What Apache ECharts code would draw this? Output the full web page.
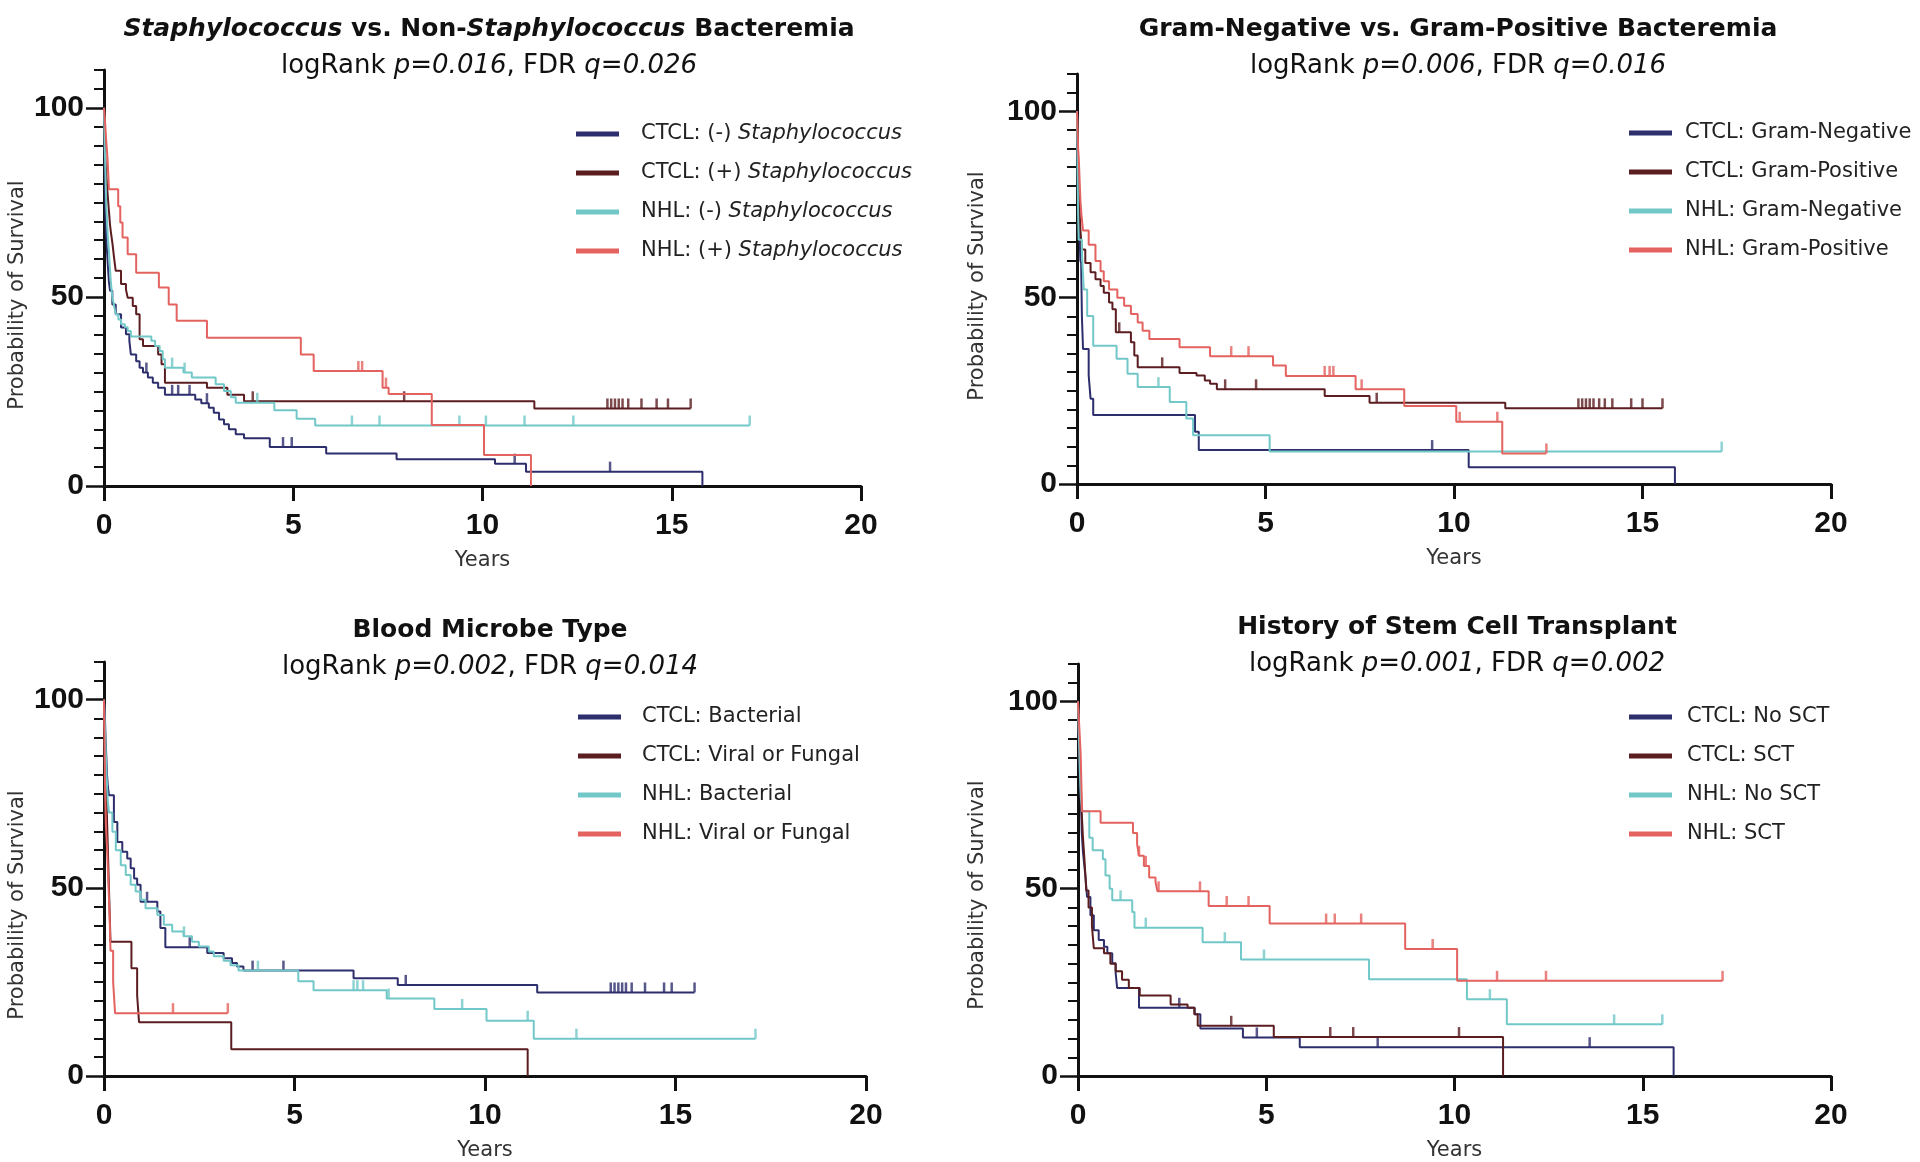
<!DOCTYPE html>
<html>
<head>
<meta charset="utf-8">
<script src="https://cdn.jsdelivr.net/npm/echarts@6/dist/echarts.min.js"></script>
<style>
html, body { margin: 0; padding: 0; background: #fff; }
#chart { width: 1920px; height: 1162px; }
</style>
</head>
<body>
<div id="chart"></div>
<script>
// survival curves: [years, % surviving], censor marks: years
var p1CtclNeg = [[0,100],[0.005,96],[0.01,92],[0.015,88],[0.02,84],[0.025,80],[0.03,76],[0.04,72],[0.045,69],[0.06,66],[0.075,63],[0.09,60.4],[0.11,57],[0.13,54],[0.16,51.6],[0.22,48],[0.31,45.4],[0.45,41.9],[0.58,40.1],[0.67,38.4],[0.71,34.8],[0.85,33],[0.94,31.3],[1.03,30],[1.16,28.7],[1.29,27.3],[1.43,26],[1.61,24.1],[2.41,22.9],[2.57,21.9],[2.77,20.7],[2.9,19.4],[3.04,17.6],[3.17,16.3],[3.3,15],[3.48,13.7],[3.7,12.6],[4.38,10.3],[5.87,8.6],[7.73,7.05],[10.33,5.9],[11.15,3.8],[15.81,0]];
var p1CtclNegCens = [1.12, 1.8, 1.96, 2.26, 2.72, 4.73, 4.96, 10.85, 13.37];
var p1CtclPos = [[0,100],[0.01,93],[0.03,88],[0.05,84],[0.07,81],[0.09,78],[0.12,74],[0.16,69],[0.19,66.5],[0.22,64.4],[0.27,60],[0.31,56.9],[0.45,53.4],[0.58,52],[0.625,49.8],[0.76,47.6],[0.85,45.4],[0.94,38.8],[1.03,37],[1.43,34.8],[1.52,32.2],[1.61,27.3],[2.72,26],[3.26,24.1],[3.7,22.4],[11.37,20.5],[15.5,20.5]];
var p1CtclPosCens = [3.93, 7.93, 13.3, 13.4, 13.5, 13.6, 13.7, 13.85, 14.2, 14.6, 14.9, 15.5];
var p1NhlNeg = [[0,100],[0.01,95],[0.02,90],[0.03,86],[0.04,82],[0.05,78],[0.06,74],[0.08,70],[0.1,66],[0.13,62],[0.16,57],[0.18,54],[0.22,50],[0.27,47.5],[0.31,45.4],[0.38,44],[0.45,42.8],[0.55,42],[0.625,41],[0.71,39.5],[1.25,38.4],[1.35,37],[1.47,35.7],[1.55,33.5],[1.61,31.3],[2.1,30],[2.32,28.7],[2.95,26.9],[3.17,25.1],[3.35,23.5],[3.48,22],[4.5,20],[5.09,17.8],[5.58,16],[17.06,16]];
var p1NhlNegCens = [1.8, 2.13, 4.05, 6.55, 7.28, 9.39, 10.09, 11.11, 12.4, 17.06];
var p1NhlPos = [[0,100],[0.03,96],[0.06,91],[0.09,87],[0.11,83],[0.13,78.5],[0.375,74],[0.43,69.7],[0.49,65.7],[0.625,61.3],[0.85,56.4],[1.45,52.5],[1.71,48],[1.92,43.7],[2.72,39.2],[5.2,34.8],[5.54,30.4],[7.36,26],[7.52,24.3],[8.66,16.1],[10.04,8.2],[11.28,0]];
var p1NhlPosCens = [6.72, 6.82, 7.45];

var p2CtclNeg = [[0,100],[0.01,92],[0.02,84],[0.03,78],[0.045,72.6],[0.07,66],[0.09,60],[0.11,59.3],[0.13,45],[0.16,36.2],[0.31,29.1],[0.36,22.9],[0.43,18.5],[3.13,14],[3.23,9.1],[10.39,4.5],[15.86,0]];
var p2CtclNegCens = [9.42];
var p2CtclPos = [[0,100],[0.01,94],[0.02,88],[0.03,83],[0.045,78.9],[0.09,68.2],[0.13,62.9],[0.22,59.3],[0.36,56.8],[0.49,54.9],[0.625,53.1],[0.71,51.3],[0.85,48.7],[0.94,46.9],[1.03,40.7],[1.43,38],[1.52,34.5],[1.61,31.3],[2.72,29.8],[3.17,29.1],[3.39,27.8],[3.53,26.9],[3.71,25.4],[6.57,23.6],[7.76,21.8],[11.36,20.3],[15.53,20.3]];
var p2CtclPosCens = [1.12, 2.26, 3.93, 4.75, 7.95, 13.3, 13.4, 13.5, 13.6, 13.7, 13.85, 14.0, 14.2, 14.7, 15.0, 15.53];
var p2NhlNeg = [[0,100],[0.01,90],[0.02,80],[0.03,72],[0.045,65.5],[0.13,62],[0.18,52.2],[0.27,45.1],[0.43,37.1],[1.05,33.6],[1.34,29.6],[1.61,26],[2.46,22],[2.9,17.6],[3.08,13.1],[5.11,8.7],[17.1,8.7]];
var p2NhlNegCens = [2.16, 17.1];
var p2NhlPos = [[0,100],[0.01,97],[0.02,93],[0.03,90],[0.045,87.7],[0.06,84],[0.075,80],[0.09,76],[0.12,72],[0.16,68],[0.31,64.2],[0.49,59.8],[0.625,57.1],[0.71,54.4],[0.85,52.2],[1.07,50],[1.25,47.8],[1.43,45.6],[1.61,43.3],[1.74,41.1],[1.92,38.9],[2.72,36.7],[3.53,34.3],[5.2,31.8],[5.54,29],[7.39,25.4],[8.68,20.9],[10.06,16.7],[11.28,8.2],[12.45,8.2]];
var p2NhlPosCens = [4.09, 4.55, 6.57, 6.7, 6.8, 7.55, 10.15, 11.15, 12.45];

var p3CtclBact = [[0,100],[0.02,96.6],[0.04,90],[0.06,85],[0.08,80],[0.1,77],[0.13,74.6],[0.26,67.5],[0.35,62.2],[0.48,59.6],[0.61,57.8],[0.7,55.2],[0.79,52.5],[0.87,50.8],[0.96,46.3],[1.4,43.7],[1.48,39.3],[1.61,34.2],[2.71,32.7],[3.14,31.3],[3.36,30],[3.49,29.1],[3.66,28],[6.55,26],[7.71,24.2],[11.37,22.2],[15.5,22.2]];
var p3CtclBactCens = [1.13, 2.25, 3.9, 4.71, 7.92, 13.3, 13.4, 13.5, 13.6, 13.7, 13.85, 14.2, 14.7, 14.9, 15.5];
var p3CtclVF = [[0,100],[0.01,92.9],[0.03,85.7],[0.05,78.6],[0.07,71.4],[0.09,64.3],[0.11,57.1],[0.13,50],[0.15,42.9],[0.17,35.7],[0.72,28.6],[0.87,21.4],[0.92,14.3],[3.34,7.1],[11.12,0]];
var p3CtclVFCens = [];
var p3NhlBact = [[0,100],[0.02,94],[0.04,88],[0.06,82],[0.08,77],[0.1,73],[0.13,70],[0.22,64.9],[0.31,60],[0.44,56],[0.57,53.4],[0.7,50.8],[0.83,49],[0.96,46.8],[1.09,44.6],[1.4,42.8],[1.57,40.2],[1.79,38.4],[2.09,37.1],[2.31,35.7],[2.49,34.4],[2.75,33.1],[2.88,31.8],[3.14,30.6],[3.32,29.4],[3.53,28],[5.1,25.2],[5.5,22.8],[7.42,20.6],[8.67,17.8],[10.04,14.7],[11.28,9.9],[17.1,9.9]];
var p3NhlBactCens = [2.1, 4.04, 6.55, 6.65, 6.8, 7.47, 9.4, 11.12, 12.4, 17.1];
var p3NhlVF = [[0,100],[0.01,91.7],[0.02,83.3],[0.03,75],[0.05,66.7],[0.09,58.3],[0.12,50],[0.15,41.7],[0.17,33.3],[0.24,25],[0.29,16.7],[3.25,16.7]];
var p3NhlVFCens = [1.81, 3.25];

var p4CtclNo = [[0,100],[0.01,95],[0.02,90],[0.03,85],[0.05,80],[0.07,75],[0.09,70],[0.1,65],[0.13,60],[0.17,56],[0.2,53],[0.24,47.8],[0.33,42.9],[0.42,38.9],[0.55,36.3],[0.69,34.5],[0.78,32.8],[0.91,30.1],[1.0,27.5],[1.04,23.5],[1.62,18.2],[3.1,16.5],[3.25,12.7],[4.38,10.3],[5.89,7.7],[15.82,0]];
var p4CtclNoCens = [2.69, 4.75, 7.96, 13.59];
var p4CtclSct = [[0,100],[0.01,94],[0.03,88],[0.05,82],[0.08,76],[0.1,70],[0.13,64],[0.17,58],[0.2,53],[0.22,49.5],[0.28,45],[0.37,40],[0.42,34.1],[0.69,32.8],[0.86,30],[1.0,28],[1.17,25.7],[1.35,23.5],[1.64,21.5],[2.46,19.1],[2.91,18.2],[3.09,16.5],[3.18,13.4],[5.2,10.4],[11.29,0]];
var p4CtclSctCens = [4.07, 6.7, 7.31, 10.12];
var p4NhlNo = [[0,100],[0.02,92],[0.04,85],[0.06,78],[0.08,74],[0.11,70.7],[0.3,63.6],[0.39,60.3],[0.66,57.9],[0.73,53.5],[0.84,50],[0.91,46.9],[1.44,43.8],[1.5,39.6],[3.31,35.7],[4.33,31.1],[7.73,25.8],[10.33,20.5],[11.39,13.8],[15.52,13.8]];
var p4NhlNoCens = [1.13, 1.8, 3.9, 4.94, 10.94, 14.24, 15.52];
var p4NhlSct = [[0,100],[0.01,97.5],[0.03,94],[0.05,90],[0.07,86],[0.08,82],[0.09,78],[0.1,74],[0.11,70.7],[0.6,67.6],[1.46,64.9],[1.57,61.9],[1.62,58.8],[1.75,56.1],[1.89,53],[2.06,51.7],[2.11,49.3],[3.47,45.4],[5.09,40.7],[8.69,33.9],[10.07,25.4],[17.12,25.4]];
var p4NhlSctCens = [1.62, 1.8, 2.14, 3.24, 3.95, 4.53, 6.59, 6.82, 7.52, 9.42, 11.13, 12.43, 17.12];

var xTicks = [0, 5, 10, 15, 20];
var yTickLabels = [0, 50, 100];
var yMax = 110;
var yMinorStep = 5;

var panelTitles = [
    '{i|Staphylococcus} vs. Non-{i|Staphylococcus} Bacteremia',
    'Gram-Negative vs. Gram-Positive Bacteremia',
    'Blood Microbe Type',
    'History of Stem Cell Transplant'
];
var panelSubtitles = [
    'logRank {i|p=0.016}, FDR {i|q=0.026}',
    'logRank {i|p=0.006}, FDR {i|q=0.016}',
    'logRank {i|p=0.002}, FDR {i|q=0.014}',
    'logRank {i|p=0.001}, FDR {i|q=0.002}'
];
var groupNames = [
    ['CTCL: (-) Staphylococcus', 'CTCL: (+) Staphylococcus', 'NHL: (-) Staphylococcus', 'NHL: (+) Staphylococcus'],
    ['CTCL: Gram-Negative', 'CTCL: Gram-Positive', 'NHL: Gram-Negative', 'NHL: Gram-Positive'],
    ['CTCL: Bacterial', 'CTCL: Viral or Fungal', 'NHL: Bacterial', 'NHL: Viral or Fungal'],
    ['CTCL: No SCT', 'CTCL: SCT', 'NHL: No SCT', 'NHL: SCT']
];

var panelCurves = [
    [[p1CtclNeg, p1CtclNegCens], [p1CtclPos, p1CtclPosCens], [p1NhlNeg, p1NhlNegCens], [p1NhlPos, p1NhlPosCens]],
    [[p2CtclNeg, p2CtclNegCens], [p2CtclPos, p2CtclPosCens], [p2NhlNeg, p2NhlNegCens], [p2NhlPos, p2NhlPosCens]],
    [[p3CtclBact, p3CtclBactCens], [p3CtclVF, p3CtclVFCens], [p3NhlBact, p3NhlBactCens], [p3NhlVF, p3NhlVFCens]],
    [[p4CtclNo, p4CtclNoCens], [p4CtclSct, p4CtclSctCens], [p4NhlNo, p4NhlNoCens], [p4NhlSct, p4NhlSctCens]]
];

var FONT = '"Liberation Sans", Arial, sans-serif';
var WIDE = '"DejaVu Sans", Verdana, sans-serif';
var colors = ['#2d2e6c', '#5b1d20', '#72c8c8', '#e4625f'];

// panel layout
var grids = [
    {left: 104, right: 1059, top: 70, bottom: 676},
    {left: 1077, right: 89, top: 74, bottom: 678},
    {left: 104, right: 1054, top: 662, bottom: 85},
    {left: 1078, right: 89, top: 664, bottom: 81}
];
var titlePos = [{x: 484, y: 9}, {x: 1453, y: 9}, {x: 485, y: 610}, {x: 1452, y: 607}];
var legendPos = [{x: 571, y: 117, pad: 17}, {x: 1624, y: 116, pad: 8}, {x: 573, y: 700, pad: 16}, {x: 1624, y: 700, pad: 10}];
var yNamePos = [{x: 18, y: 295}, {x: 978, y: 286}, {x: 18, y: 905}, {x: 978, y: 895}];

var minorTickValues = [];
for (var v = 0; v <= yMax; v += yMinorStep) {
    if (yTickLabels.indexOf(v) < 0) minorTickValues.push(v);
}

function survAt(curve, t) {
    var s = curve[0][1];
    for (var i = 0; i < curve.length; i++) {
        if (curve[i][0] <= t) s = curve[i][1];
    }
    return s;
}

var option = {
    animation: false,
    backgroundColor: '#ffffff',
    title: [],
    legend: [],
    grid: [],
    xAxis: [],
    yAxis: [],
    series: [],
    graphic: []
};

panelCurves.forEach(function (curves, p) {
    option.grid.push(grids[p]);

    option.title.push({
        text: panelTitles[p],
        subtext: panelSubtitles[p],
        left: titlePos[p].x,
        top: titlePos[p].y,
        textAlign: 'center',
        itemGap: 7,
        textStyle: {
            fontFamily: WIDE, fontSize: 25, fontWeight: 'bold', color: '#111', lineHeight: 30,
            rich: { i: { fontFamily: WIDE, fontSize: 25, fontWeight: 'bold', fontStyle: 'italic', color: '#111' } }
        },
        subtextStyle: {
            fontFamily: WIDE, fontSize: 26, color: '#111', lineHeight: 30,
            rich: { i: { fontFamily: WIDE, fontSize: 26, fontStyle: 'italic', color: '#111' } }
        }
    });

    option.legend.push({
        data: groupNames[p],
        orient: 'vertical',
        left: legendPos[p].x,
        top: legendPos[p].y,
        icon: 'rect',
        itemWidth: 43,
        itemHeight: 5,
        itemGap: 15,
        selectedMode: false,
        formatter: function (name) {
            return name.replace('Staphylococcus', '{i|Staphylococcus}');
        },
        textStyle: {
            fontFamily: WIDE, fontSize: 21, color: '#222', lineHeight: 24, padding: [0, 0, 0, legendPos[p].pad],
            rich: { i: { fontFamily: WIDE, fontSize: 21, fontStyle: 'italic', color: '#222' } }
        }
    });

    option.graphic.push({
        type: 'text',
        x: yNamePos[p].x,
        y: yNamePos[p].y,
        rotation: Math.PI / 2,
        silent: true,
        style: {
            text: 'Probability of Survival',
            fontFamily: WIDE,
            fontSize: 21,
            fill: '#333',
            align: 'center',
            verticalAlign: 'middle'
        }
    });

    option.xAxis.push({
        type: 'value',
        gridIndex: p,
        min: xTicks[0],
        max: xTicks[xTicks.length - 1],
        interval: xTicks[1] - xTicks[0],
        name: 'Years',
        nameLocation: 'middle',
        nameGap: 64,
        nameTextStyle: { fontFamily: WIDE, fontSize: 21, color: '#333' },
        axisLine: { onZero: false, lineStyle: { color: '#111', width: 3 } },
        axisTick: { length: 15, lineStyle: { color: '#111', width: 3 } },
        axisLabel: { fontFamily: FONT, fontSize: 30, fontWeight: 'bold', color: '#111', margin: 25 },
        splitLine: { show: false }
    });

    // labelled axis with long ticks at 0 / 50 / 100
    option.yAxis.push({
        type: 'value',
        gridIndex: p,
        min: 0,
        max: yMax,
        axisLine: { show: true, onZero: false, lineStyle: { color: '#111', width: 3 } },
        axisTick: { show: true, customValues: yTickLabels, length: 18, lineStyle: { color: '#111', width: 2.5 } },
        axisLabel: {
            customValues: yTickLabels,
            fontFamily: FONT, fontSize: 30, fontWeight: 'bold', color: '#111', margin: 20
        },
        splitLine: { show: false }
    });
    // short ticks every 5
    option.yAxis.push({
        type: 'value',
        gridIndex: p,
        position: 'left',
        min: 0,
        max: yMax,
        axisLine: { show: false, onZero: false },
        axisTick: { show: true, customValues: minorTickValues, length: 10, lineStyle: { color: '#111', width: 2 } },
        axisLabel: { show: false },
        splitLine: { show: false }
    });

    curves.forEach(function (c, k) {
        var curve = c[0], cens = c[1];
        option.series.push({
            name: groupNames[p][k],
            type: 'line',
            step: 'end',
            xAxisIndex: p,
            yAxisIndex: 2 * p,
            data: curve,
            symbol: 'none',
            color: colors[k],
            lineStyle: { color: colors[k], width: 2 },
            z: 2 + k
        });
        option.series.push({
            name: groupNames[p][k] + ' (censored)',
            type: 'scatter',
            xAxisIndex: p,
            yAxisIndex: 2 * p,
            data: cens.map(function (t) { return [t, survAt(curve, t)]; }),
            symbol: 'rect',
            symbolSize: [2.5, 10],
            symbolOffset: [0, -5],
            itemStyle: { color: colors[k] },
            silent: true,
            z: 2 + k
        });
    });
});

var myChart = echarts.init(document.getElementById('chart'), null, { renderer: 'canvas' });
myChart.setOption(option);
</script>
</body>
</html>
